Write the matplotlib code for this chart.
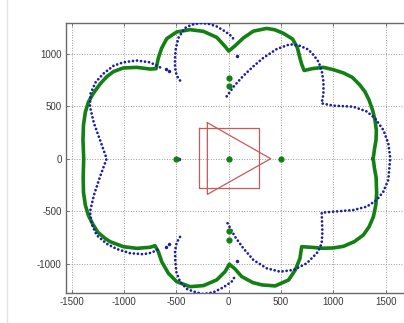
import numpy as np
import matplotlib
matplotlib.use("Agg")
import matplotlib.pyplot as plt
from matplotlib.lines import Line2D

plt.rcParams.update({"font.family": ["Liberation Sans", "DejaVu Sans"], "font.size": 7,
                     "axes.unicode_minus": False})

# --- green closed contour (x, y) ---
green_x = [1380, 1392, 1407, 1410, 1397, 1375, 1340, 1300, 1250, 1180, 1100, 1000, 904, 800, 720,
           697, 680, 655, 610, 522, 440, 363, 236, 140, 60, 0,
           -35, -115, -242, -370, -497, -592, -640, -672, -694,
           -752, -879, -1007, -1100, -1166, -1230, -1293, -1340, -1370, -1387, -1392, -1385,
           -1390, -1387, -1370, -1340, -1300, -1250, -1180, -1134, -1007, -879, -752, -704,
           -672, -640, -576, -497, -370, -242, -115, -35, 6,
           60, 124, 230, 316, 444, 572, 636, 680, 697,
           800, 900, 1000, 1095, 1200, 1286, 1340, 1382, 1405, 1413, 1408, 1392, 1380]
green_y = [0, 90, 178, 270, 369, 460, 560, 640, 705, 775, 815, 848, 870, 858, 840,
           900, 960, 1060, 1140, 1194, 1228, 1241, 1215, 1150, 1075, 1025,
           1070, 1156, 1213, 1229, 1207, 1143, 1054, 959, 857,
           854, 870, 864, 830, 780, 710, 622, 540, 440, 320, 180, 0,
           -180, -320, -440, -540, -620, -700, -760, -790, -838, -854, -844, -829,
           -886, -981, -1092, -1171, -1219, -1209, -1155, -1076, -1005,
           -1050, -1123, -1180, -1202, -1212, -1155, -1060, -950, -838,
           -845, -853, -850, -835, -790, -727, -650, -553, -440, -330, -180, -90, 0]

# green blobs
blob_x = [0, -500, 500, 0, 0, 0, 0]
blob_y = [0, 0, 0, 770, 690, -690, -770]

# --- blue dotted traces ---
blueA_x = [-19, 50, 140, 236, 330, 460, 585, 681, 760, 808, 860, 890, 905, 905, 888,
           999, 1100, 1190, 1318, 1397, 1477, 1524, 1541, 1541, 1524, 1477, 1413, 1318,
           1190, 999, 888, 891, 895, 888, 860, 840, 745, 617, 490, 363, 236, 140, 60, -19]
blueA_y = [594, 690, 790, 880, 960, 1045, 1090, 1075, 1040, 990, 920, 830, 733, 620, 527,
           505, 500, 495, 450, 385, 273, 147, 19, -12, -203, -314, -394, -457,
           -489, -505, -514, -600, -700, -806, -870, -901, -997, -1060, -1076, -1044, -965, -854, -743, -600]

blueB_x = [-656, -752, -879, -1007, -1100, -1197, -1270, -1320, -1325, -1287, -1229, -1166,
           -1229, -1287, -1325, -1310, -1260, -1166, -1070, -943, -815, -736, -656]
blueB_y = [870, 918, 935, 918, 885, 810, 730, 620, 495, 337, 178, 0,
           -171, -346, -505, -620, -730, -810, -860, -900, -910, -895, -854]

blueC_x = [-465, -497, -513, -513, -505, -481, -449, -417, -354, -274, -195, -115, -35, 29, 61]
blueC_y = [745, 790, 870, 960, 1050, 1150, 1197, 1245, 1276, 1292, 1286, 1260, 1213, 1165, 1117]

blueD_x = [-465, -497, -513, -510, -500, -465, -400, -338, -242, -147, -51, 29, 61]
blueD_y = [-745, -800, -880, -980, -1080, -1171, -1240, -1265, -1290, -1273, -1225, -1170, -1120]

blue_pts_x = [-600, -567, 83, -600, -567, 83, -470]
blue_pts_y = [850, 832, 975, -840, -816, -970, 0]

# --- red shapes ---
sq_x = [-280, 285, 285, -280, -280]
sq_y = [289, 289, -276, -276, 289]
tri_x = [-204, 401, -204, -204]
tri_y = [343, 0, -340, 343]

GREEN = "#128012"
BLUE = "#1c1ca8"
RED = "#c85a5a"

fig = plt.figure(figsize=(4.04, 3.23), dpi=100)
ax = fig.add_axes([0.1626, 0.092, 0.870, 0.836])

ax.plot(sq_x, sq_y, color=RED, lw=0.9, zorder=2)
ax.plot(tri_x, tri_y, color=RED, lw=0.9, zorder=2)

dots = dict(color=BLUE, lw=2.0, ls=(0, (0.01, 1.45)), dash_capstyle="round", zorder=4)
for bx, by in [(blueA_x, blueA_y), (blueB_x, blueB_y), (blueC_x, blueC_y), (blueD_x, blueD_y)]:
    ax.plot(bx, by, **dots)
ax.plot(blue_pts_x, blue_pts_y, "o", color=BLUE, ms=2.5, mew=0, zorder=4)

ax.plot(green_x, green_y, color=GREEN, lw=2.6, solid_joinstyle="round", zorder=3)
ax.plot(blob_x, blob_y, "o", color=GREEN, ms=4.5, mew=0, zorder=5)

ax.set_xlim(-1557, 1800)
ax.set_ylim(-1282, 1290)
ax.set_xticks([-1500, -1000, -500, 0, 500, 1000, 1500])
ax.set_yticks([-1000, -500, 0, 500, 1000])
ax.grid(True, ls=":", color="#9a9a9a", lw=0.7)
ax.tick_params(direction="in", length=2.5, width=0.6, color="#606060",
               labelcolor="#3a3a3a", top=True, right=False, pad=3)
for s in ax.spines.values():
    s.set_color("#6a6a6a")
    s.set_linewidth(1.0)

# page border on the left
fig.add_artist(Line2D([7 / 404, 7 / 404], [0, 1], color="#e4e4e4", lw=1.0))

fig.savefig("out.png", dpi=100)
